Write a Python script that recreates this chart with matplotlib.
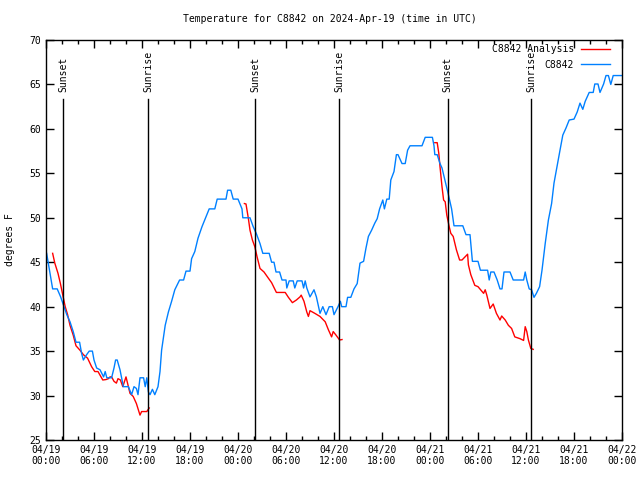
import numpy as np
import matplotlib
matplotlib.use("Agg")
import matplotlib.pyplot as plt

nan = np.nan

# station C8842, hours since 2024-04-19 00:00 UTC
blue_hours = [0.08, 0.83, 1.4, 1.83, 2.17, 2.6, 3.0, 3.4, 3.75, 4.2, 4.45, 4.67, 5.08, 5.4, 5.8, 6.0,
              6.33, 6.75, 7.2, 7.4, 7.6, 8.2, 8.5, 8.7, 8.9, 9.25, 9.67, 10.3, 10.7, 11.0, 11.3, 11.5,
              11.75, 12.2, 12.4, 12.6, 12.8, 13.0, 13.3, 13.6, 14.0, 14.25, 14.45, 14.9, 15.3, 15.7,
              16.1, 16.7, 17.2, 17.5, 18.0, 18.2, 18.6, 19.0, 19.5, 19.9, 20.4, 21.1, 21.4, 22.5,
              22.7, 23.1, 23.4, 24.0, 24.5, 24.6, 25.5, 25.9, 26.3, 26.75, 27.1, 27.9, 28.2, 28.5,
              28.75, 29.2, 29.5, 30.0, 30.1, 30.4, 30.9, 31.1, 31.4, 32.0, 32.2, 32.4, 32.6, 33.0,
              33.5, 33.8, 34.25, 34.6, 35.0, 35.4, 35.8, 36.0, 36.5, 36.8, 36.96, 37.5, 37.7, 38.1,
              38.5, 38.9, 39.25, 39.7, 40.0, 40.3, 40.7, 41.1, 41.4, 41.7, 42.1, 42.3, 42.6, 42.9,
              43.1, 43.5, 43.8, 44.0, 44.5, 44.9, 45.2, 45.5, 47.0, 47.4, 48.3, 48.5, 48.6, 48.9,
              49.25, 49.5, 49.9, 50.3, 50.7, 51.0, 52.1, 52.5, 53.0, 53.3, 54.0, 54.3, 55.2, 55.4,
              55.6, 56.0, 56.4, 56.75, 57.0, 57.25, 58.0, 58.4, 59.7, 59.9, 60.1, 60.4, 60.7, 61.0,
              61.3, 61.7, 62.0, 62.4, 62.8, 63.2, 63.5, 63.8, 64.25, 64.6, 65.0, 65.4, 66.0, 66.4,
              66.75, 67.1, 67.4, 67.9, 68.4, 68.6, 69.0, 69.25, 69.7, 70.0, 70.3, 70.6, 70.9, 72.0]
blue_temps = [46.0, 42.0, 42.0, 41.1, 40.2, 39.1, 38.3, 37.2, 36.0, 36.0, 34.75, 34.0, 34.6, 35.0, 35.0, 34.0,
              33.1, 32.9, 32.1, 32.7, 32.0, 32.0, 33.1, 34.0, 34.0, 32.9, 31.0, 31.0, 30.1, 31.0, 30.8, 30.1,
              32.0, 32.0, 31.0, 32.0, 30.4, 30.1, 30.7, 30.1, 31.0, 32.7, 35.1, 37.9, 39.4, 40.6,
              41.9, 43.0, 43.0, 44.0, 44.0, 45.4, 46.2, 47.7, 49.0, 49.9, 51.0, 51.0, 52.1, 52.1,
              53.1, 53.1, 52.1, 52.1, 51.0, 50.0, 50.0, 49.0, 48.2, 47.1, 46.0, 46.0, 45.0, 45.0,
              43.9, 43.9, 43.0, 43.0, 42.1, 42.9, 42.9, 42.1, 42.9, 42.9, 42.1, 42.9, 42.1, 41.1,
              41.9, 41.1, 39.25, 40.0, 39.1, 40.0, 40.0, 39.1, 40.0, 40.6, 40.0, 40.0, 41.05, 41.05,
              42.0, 42.6, 44.9, 45.1, 46.6, 47.9, 48.6, 49.4, 49.9, 51.0, 52.0, 51.0, 52.1, 52.1,
              54.25, 55.2, 57.1, 57.1, 56.1, 56.1, 57.6, 58.1, 58.1, 59.05, 59.05, 58.1, 57.1, 57.1,
              56.1, 55.6, 54.1, 52.6, 51.0, 49.1, 49.1, 48.1, 48.1, 45.1, 45.1, 44.1, 44.1, 43.0,
              43.9, 43.9, 43.0, 42.0, 42.0, 43.9, 43.9, 43.0, 43.0, 43.9, 43.0, 42.0, 41.9, 41.05,
              41.5, 42.25, 44.1, 47.1, 49.75, 51.6, 53.9, 55.4, 57.6, 59.3, 60.1, 61.0, 61.1, 61.9,
              62.9, 62.2, 63.1, 64.1, 64.1, 65.05, 65.05, 64.1, 65.05, 66.0, 66.0, 65.0, 66.0, 66.0]

# analysis series, three nightly segments (nan = gap)
red_hours = [0.83, 1.1, 1.5, 1.8, 2.1, 2.4, 2.7, 3.0, 3.4, 3.75, 4.25, 4.67, 5.2, 5.7, 6.1, 6.5, 6.75,
             7.1, 7.5, 7.8, 8.0, 8.2, 8.5, 8.8, 9.0, 9.3, 9.6, 10.0, 10.3, 10.5, 10.9, 11.3, 11.75,
             11.95, 12.6, 12.9, nan,
             24.8, 25.0, 25.3, 25.5, 25.8, 26.1, 26.4, 26.75, 27.25, 27.8, 28.2, 28.8, 29.9, 30.3,
             30.8, 31.3, 31.75, 31.9, 32.25, 32.6, 32.8, 33.0, 33.6, 34.25, 34.9, 35.3, 35.7, 35.9,
             36.25, 36.7, 37.0, nan,
             48.6, 48.9, 49.1, 49.25, 49.5, 49.7, 49.9, 50.1, 50.4, 50.6, 50.9, 51.3, 51.7, 52.0,
             52.7, 52.8, 53.1, 53.6, 54.0, 54.7, 54.9, 55.1, 55.5, 55.9, 56.3, 56.75, 56.96, 57.4,
             57.8, 58.2, 58.6, 59.25, 59.7, 59.9, 60.1, 60.3, 60.6, 60.9]
red_temps = [46.0, 44.9, 43.75, 42.6, 41.3, 40.0, 39.1, 37.9, 36.8, 35.6, 35.1, 34.6, 34.2, 33.25, 32.7, 32.7, 32.3,
             31.75, 31.8, 31.9, 32.1, 32.1, 31.6, 31.4, 31.9, 31.75, 31.0, 32.1, 31.0, 30.25, 29.9, 29.1, 27.8,
             28.2, 28.2, 28.6, nan,
             51.6, 51.55, 49.9, 48.6, 47.5, 46.75, 45.55, 44.3, 43.9, 43.2, 42.7, 41.6, 41.6, 41.05,
             40.45, 40.75, 41.1, 41.3, 40.6, 39.4, 38.9, 39.55, 39.25, 38.9, 38.3, 37.4, 36.6, 37.2,
             36.8, 36.25, 36.3, nan,
             58.45, 58.45, 57.25, 55.75, 53.5, 52.0, 51.8, 50.3, 49.0, 48.25, 47.9, 46.4, 45.25, 45.25,
             45.9, 44.7, 43.6, 42.4, 42.25, 41.5, 41.9, 41.3, 39.8, 40.3, 39.25, 38.5, 38.95, 38.5,
             37.9, 37.55, 36.6, 36.4, 36.2, 37.75, 37.2, 36.25, 35.3, 35.2]

sun_hours = [2.17, 12.79, 26.17, 36.67, 50.2, 60.67]
sun_labels = ["Sunset", "Sunrise", "Sunset", "Sunrise", "Sunset", "Sunrise"]

xtick_hours = list(range(0, 73, 6))
xtick_labels = ["04/19\n00:00", "04/19\n06:00", "04/19\n12:00", "04/19\n18:00",
                "04/20\n00:00", "04/20\n06:00", "04/20\n12:00", "04/20\n18:00",
                "04/21\n00:00", "04/21\n06:00", "04/21\n12:00", "04/21\n18:00",
                "04/22\n00:00"]

plt.rcParams['font.family'] = ['DejaVu Sans Mono']
fs = 7

fig = plt.figure(figsize=(6.4, 4.8), dpi=100)
ax = fig.add_axes([46/640, 40/480, 576/640, 400/480])

ax.plot(red_hours, red_temps, color="#ff0000", linewidth=1.0, label="C8842 Analysis")
ax.plot(blue_hours, blue_temps, color="#0080ff", linewidth=1.0, label="C8842")

for h, lab in zip(sun_hours, sun_labels):
    ax.plot([h, h], [0, 0.8525], color="black", linewidth=1.0,
            transform=ax.get_xaxis_transform())
    ax.text(h, 0.87, lab, rotation=90, ha="center", va="bottom", fontsize=fs,
            transform=ax.get_xaxis_transform())

ax.set_xlim(0, 72)
ax.set_ylim(25, 70)
ax.set_xticks(xtick_hours)
ax.set_xticklabels(xtick_labels, fontsize=fs)
ax.set_xticks(range(0, 73, 2), minor=True)
ax.set_yticks(range(25, 71, 5))
ax.tick_params(axis="y", labelsize=fs)
ax.tick_params(which="both", direction="in", top=True, right=True, width=1.0)
ax.tick_params(which="major", length=6)
ax.tick_params(which="minor", length=3)
for s in ax.spines.values():
    s.set_linewidth(1.0)

ax.set_ylabel("degrees F", fontsize=fs)
ax.yaxis.set_label_coords(-31/576, 0.5)
fig.text(330/640, 1 - 19/480, "Temperature for C8842 on 2024-Apr-19 (time in UTC)",
         fontsize=fs, ha="center", va="center")

ax.legend(loc="upper right", bbox_to_anchor=(0.979, 0.99), frameon=False,
          markerfirst=False, fontsize=fs, handlelength=3.0, borderpad=0,
          borderaxespad=0, labelspacing=0.6, handletextpad=0.7)

fig.savefig("out.png", dpi=100)
